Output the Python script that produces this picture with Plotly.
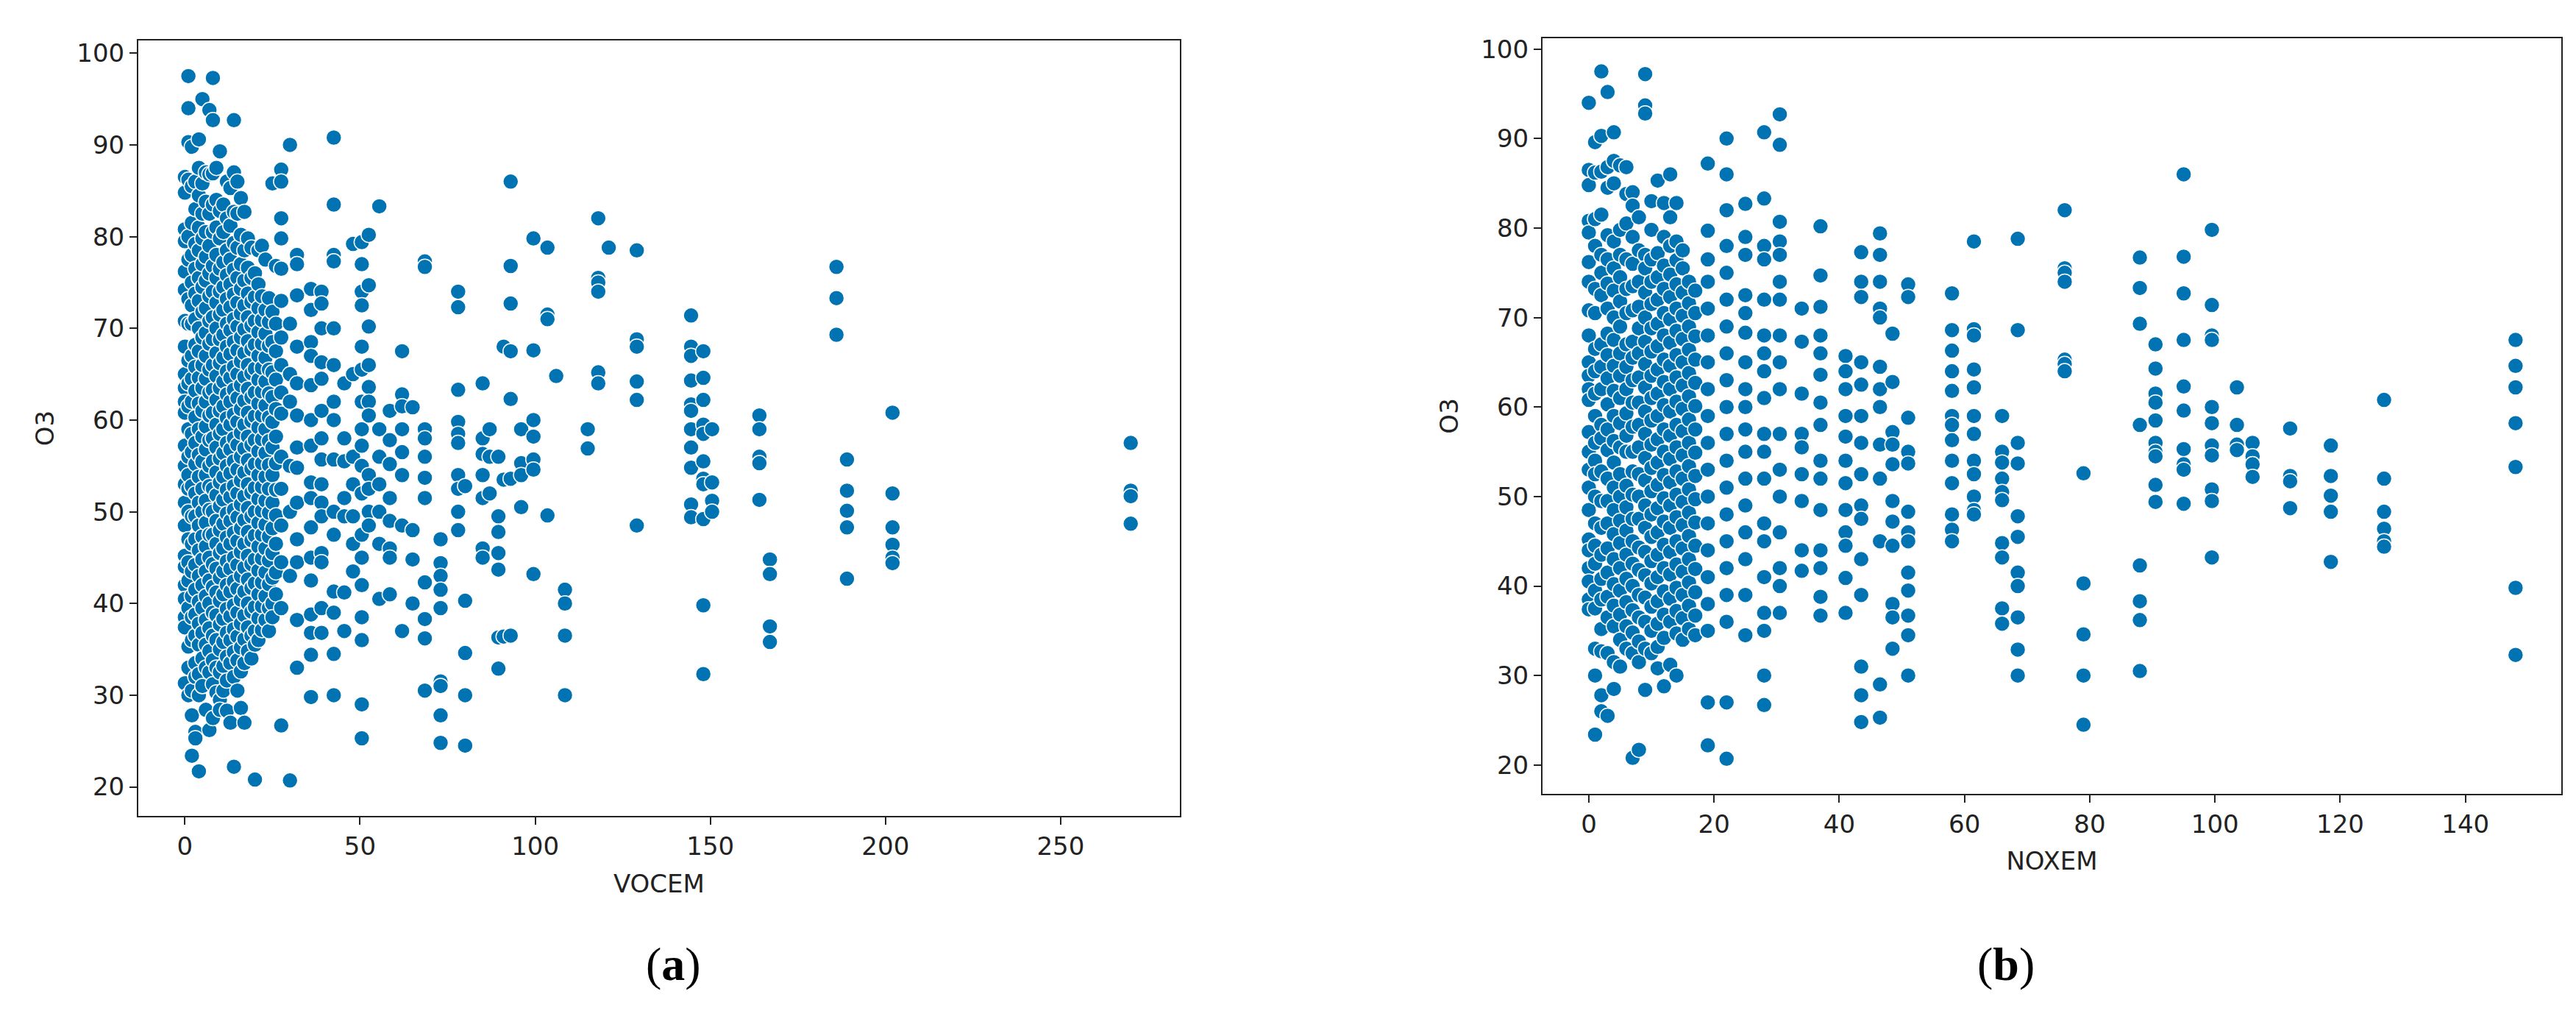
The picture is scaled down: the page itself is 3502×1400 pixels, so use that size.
import plotly.graph_objects as go

# Panel (a): VOCEM vs O3, values grouped by VOCEM column
vocem_cols = [0, 1, 2, 3, 4, 5, 6, 7, 8, 9, 10, 11, 12, 13, 14, 15, 16, 17, 18, 19, 20,
              21, 22, 23, 24, 25, 26, 27.5, 30, 32, 36, 39, 42.5, 45.5, 48, 50.5, 52.5,
              55.5, 58.5, 62, 65, 68.5, 73, 78, 80, 85, 87, 89.5, 91, 93, 96, 99.5, 103.5,
              106, 108.5, 115, 118, 121, 129, 144.5, 148, 150.5, 164, 167, 186, 189, 202, 270]
o3_a_cols = [
    [86.5, 84.8, 80.8, 79.5, 76.2, 74.2, 70.8, 68, 65, 63.5, 62, 60.8, 57.2, 55, 53, 51, 48.5, 45.2, 44, 42, 40.5, 38.5, 37.4, 31.3],
    [97.5, 94, 90.3, 86.2, 80, 77.5, 73.2, 70.5, 66.5, 64, 61.5, 59, 56, 54, 52.5, 50, 47, 44.5, 42.5, 39.5, 35.3, 33, 30],
    [89.8, 85.5, 81.5, 78, 75, 72.5, 70.5, 67, 64.5, 62, 58.5, 56.5, 52.8, 49.5, 46.5, 43.5, 40.8, 38.5, 36, 30.5, 27.8, 23.4],
    [86, 83, 79.2, 76.5, 73.8, 71, 68.2, 65.8, 63.2, 60.3, 57.5, 55.2, 52, 49.5, 47, 44.2, 41.5, 38.8, 36.5, 33.5, 32, 26, 25.3],
    [90.6, 87.5, 84.5, 81, 78.5, 75.5, 73, 70, 67.5, 64.6, 61.8, 59, 56.2, 53.8, 51, 48.5, 45.8, 43, 40.2, 37.8, 35.5, 32.3, 30, 21.7],
    [95, 85.8, 82.5, 79.8, 77, 74.5, 71.8, 69, 66, 63.5, 61, 58.2, 55.5, 52.5, 50, 47.3, 44.8, 42, 39.5, 36.8, 34, 31],
    [87, 83.8, 80.5, 77.8, 75.2, 72.2, 69.5, 67, 64.5, 62, 59.3, 56.8, 54, 51.2, 48.8, 46.2, 43.5, 40.8, 38.2, 35.5, 33, 28.4],
    [93.8, 86.8, 82.5, 79, 76, 73.5, 70.8, 68.3, 65.5, 63, 60.5, 57.8, 55, 52.8, 50.2, 47.5, 45, 42.5, 40, 37.3, 34.8, 32.5, 26.2],
    [97.3, 92.7, 86.9, 83.5, 80.5, 76.8, 74, 71.2, 68.8, 66, 63.3, 60.8, 58, 55.5, 52.5, 50, 47.5, 44.3, 41.8, 39, 36.5, 33.8, 31.2, 27.5],
    [87.5, 84, 81, 78, 75.5, 72.8, 70, 67.3, 64.8, 62.2, 59.5, 57, 54.3, 51.8, 49, 46.5, 43.8, 41.2, 38.7, 36, 33, 30.3],
    [89.3, 82.8, 79.8, 76.5, 74, 71.5, 68.8, 66.2, 63.5, 61, 58.5, 55.8, 53.2, 50.6, 48, 45.5, 42.8, 40.3, 37.7, 35, 32.5, 29.5, 28.4],
    [83.5, 80.5, 77.2, 74.5, 72, 69.3, 66.8, 64.2, 61.5, 59, 56.4, 53.8, 51.3, 48.7, 46, 43.5, 41, 38.3, 35.8, 33.2, 30.5],
    [86, 82, 78.5, 75.8, 73.2, 70.5, 68, 65.3, 62.8, 60.2, 57.5, 55, 52.4, 49.8, 47.2, 44.6, 42, 39.4, 36.8, 34.2, 31.6, 28.3],
    [85.3, 81.2, 77.5, 74.8, 72.3, 69.8, 67.2, 64.6, 62, 59.5, 56.8, 54.2, 51.6, 49, 46.5, 43.8, 41.3, 38.6, 36, 33.5, 27],
    [92.7, 87, 82.7, 79.3, 76.4, 73.7, 71, 68.5, 65.8, 63.3, 60.6, 58, 55.5, 52.8, 50.2, 47.7, 45, 42.4, 39.8, 37.2, 34.7, 32, 22.2],
    [86, 82.5, 78.8, 75.5, 72.8, 70.2, 67.6, 65, 62.4, 59.8, 57.3, 54.6, 52, 49.4, 46.8, 44.2, 41.6, 39, 36.4, 33.8, 30.5],
    [84.2, 80.2, 77, 74.3, 71.6, 69, 66.4, 63.8, 61.2, 58.6, 56, 53.4, 50.8, 48.2, 45.6, 43, 40.4, 37.8, 35.2, 32.6, 28.6],
    [82.7, 78.5, 75.2, 72.5, 69.9, 67.3, 64.7, 62.1, 59.5, 56.9, 54.3, 51.7, 49.1, 46.5, 43.9, 41.3, 38.7, 36.1, 33.5, 27],
    [79.8, 76.6, 73.8, 71.2, 68.6, 66, 63.4, 60.8, 58.2, 55.6, 53, 50.4, 47.8, 45.2, 42.6, 40, 37.4, 34.8],
    [78.8, 75.5, 72.9, 70.3, 67.7, 65.1, 62.5, 59.9, 57.3, 54.7, 52.1, 49.5, 46.9, 44.3, 41.7, 39.1, 36.5, 34],
    [76, 73.4, 70.8, 68.2, 65.6, 63, 60.4, 57.8, 55.2, 52.6, 50, 47.4, 44.8, 42.2, 39.6, 37, 35.5, 20.8],
    [78.5, 74.8, 72.2, 69.6, 67, 64.4, 61.8, 59.2, 56.6, 54, 51.4, 48.8, 46.2, 43.6, 41, 38.4, 36],
    [79, 73.5, 70.9, 68.3, 65.7, 63.1, 60.5, 57.9, 55.3, 52.7, 50.1, 47.5, 44.9, 42.3, 39.7, 37.1],
    [77.5, 72, 69.4, 66.8, 64.2, 61.6, 59, 56.4, 53.8, 51.2, 48.6, 46, 43.4, 40.8, 38.2],
    [73.3, 70.7, 68.1, 65.5, 62.9, 60.3, 57.7, 55.1, 52.5, 49.9, 47.3, 44.7, 42.1, 39.5, 37],
    [85.8, 71.8, 68.5, 65.2, 62.5, 59.8, 57, 54, 51, 48.2, 45.5, 42.8, 40, 38.5],
    [76.8, 70.5, 67.5, 64.4, 61.2, 58.2, 55.3, 52.4, 49.6, 46.5, 43.4, 41],
    [87.3, 86, 82, 79.8, 76.5, 73, 69, 66, 63, 60.7, 56, 52.5, 48.5, 44.5, 39.5, 26.7],
    [90, 70.5, 65, 62, 55, 50, 43, 20.7],
    [78, 77, 73.6, 68, 64, 60.5, 57, 54.8, 51, 47, 44.5, 38.2, 33],
    [74.3, 72, 68.5, 67, 63.8, 60, 57.2, 53.2, 51.5, 48.3, 45, 42.5, 38.8, 36.8, 34.4, 29.8],
    [74, 72.7, 70, 66.3, 64.5, 61, 58, 55.7, 53, 51, 49.5, 45.5, 44.5, 39.5, 36.8],
    [90.8, 83.5, 78, 77.3, 70, 66, 62, 60, 55.7, 50, 47.5, 41.3, 39, 34.5, 30],
    [64, 58, 55.5, 51.5, 49.5, 41.2, 37],
    [79.2, 65, 56, 53, 49.5, 46.5, 43.5],
    [79.4, 77, 74, 72.5, 68, 65.5, 62, 59, 57.2, 55, 52, 47.5, 45, 42, 38.5, 36, 29, 25.3],
    [80.2, 74.7, 70.2, 66, 63.6, 62, 60.5, 54, 52.5, 50, 48.5],
    [83.3, 59, 56, 53, 50, 46.5, 40.5],
    [61, 57.8, 55.2, 51.5, 49, 46, 45, 41],
    [67.5, 62.8, 61.5, 59, 56.5, 54, 48.5, 37],
    [61.4, 48, 44.8, 40],
    [77.3, 76.7, 59, 58, 56, 53.7, 51.5, 42.3, 38.3, 36.2, 30.5],
    [47, 44.4, 43, 41.5, 39.5, 31.5, 31, 27.8, 24.8],
    [74, 72.3, 63.3, 59.8, 58.5, 57.5, 54, 52.5, 50, 48],
    [52.8, 40.3, 34.6, 30, 24.5],
    [64, 58, 56.3, 54, 51.5, 46, 45],
    [59, 56, 52],
    [56, 49.5, 47.8, 45.5, 43.7, 36.3, 32.9],
    [68, 53.5, 36.4],
    [86, 76.8, 72.7, 67.5, 62.3, 53.6, 36.5],
    [59, 55.3, 54, 50.5],
    [79.8, 67.6, 60, 58.2, 55.7, 54.6, 43.2],
    [78.8, 71.5, 71, 49.6],
    [64.8],
    [41.5, 40, 36.5, 30],
    [59, 56.9],
    [82, 75.5, 75, 74, 65.2, 64],
    [78.8],
    [78.5, 68.8, 68, 64.2, 62.2, 48.5],
    [71.4, 68, 67, 64.3, 61.7, 61, 59, 57, 54.8, 50.8, 49.4],
    [67.5, 64.6, 62.2, 59.5, 58.5, 55.5, 53.6, 53, 49.2, 39.8, 32.3],
    [59, 53.2, 51.2, 50],
    [60.5, 59, 56, 55.3, 51.3],
    [44.8, 43.2, 37.5, 35.8],
    [76.7, 73.3, 69.3],
    [55.7, 52.3, 50.1, 48.3, 42.7],
    [60.8, 52, 48.3, 46.4, 45, 44.4],
    [57.5, 52.3, 51.7, 48.7],
]

# Panel (b): NOXEM vs O3
noxem_cols = [0, 1, 2, 3, 4, 5, 6, 7, 8, 9, 10, 11, 12, 13, 14, 15, 16, 17, 19, 22, 25,
              28, 30.5, 34, 37, 41, 43.5, 46.5, 48.5, 51, 58, 61.5, 66, 68.5, 76, 79, 88,
              90.5, 95, 99.5, 103.5, 106, 112, 118.5, 127, 148]
o3_b_cols = [
    [94, 86.5, 84.8, 80.8, 79.5, 76.2, 74, 70.8, 68, 65, 63.5, 62, 60.8, 57.2, 55, 53, 51, 48.5, 45.2, 44, 42, 40.5, 38.5, 37.4],
    [89.6, 86.2, 81, 78, 73.2, 70.5, 66.5, 64, 61.5, 59, 56, 54, 52.5, 50, 47, 44.5, 42.5, 39.5, 37.5, 33, 30, 23.4],
    [97.5, 90.3, 86.3, 81.5, 77, 75, 72.5, 67, 64.5, 62, 58, 56.5, 52.8, 49.5, 46.5, 43.5, 40.8, 38.5, 35.2, 32.7, 27.8, 26],
    [95.2, 86.8, 84.5, 79.2, 76.5, 73.8, 71, 68.2, 65.8, 63.2, 60.3, 57.5, 55.2, 52, 49.5, 47, 44.2, 41.5, 38.8, 36.5, 32.5, 25.5],
    [90.7, 87.5, 85, 78.5, 75.5, 73, 70, 67.5, 64.6, 61.8, 59, 56.2, 53.8, 51, 48.5, 45.8, 43, 40.2, 37.8, 35.5, 31.5, 28.5],
    [87, 79.8, 77, 74.5, 71.8, 69, 66, 63.5, 61, 58.2, 55.5, 52.5, 50, 47.3, 44.8, 42, 39.5, 36.8, 34, 31],
    [86.8, 83.8, 80.5, 76.5, 73.2, 70.5, 67, 64.5, 62, 59.3, 56.8, 55, 51.2, 48.8, 46.2, 43.5, 40.8, 38.2, 35.5, 33],
    [84, 82.5, 79, 76, 73.5, 70.8, 67.3, 65.5, 63, 60.5, 57.8, 55, 52.8, 50.2, 47.5, 45, 42.5, 40, 37.3, 34.8, 32.5, 20.8],
    [81.2, 77.5, 74, 71.2, 68.8, 66, 63.3, 60.5, 58, 55.5, 52.5, 50, 47.5, 44.3, 41.8, 39, 36.5, 33.8, 31.5, 21.7],
    [97.2, 93.7, 92.8, 77, 75.5, 72.8, 70, 67.3, 64.8, 62.2, 59.5, 57, 54.3, 51.8, 49, 46.5, 43.8, 41.2, 38.7, 36, 33, 28.4],
    [83, 79.8, 76.5, 74, 71.5, 68.8, 66.2, 63.5, 61, 58.5, 55.8, 53.2, 50.6, 48, 45.5, 42.8, 40.3, 37.7, 35, 32.5],
    [85.3, 77.2, 74.5, 72, 69.3, 66.8, 64.2, 61.5, 59, 56.4, 53.8, 51.3, 48.7, 46, 43.5, 41, 38.3, 35.8, 33.2, 30.8],
    [82.8, 79, 75.8, 73.2, 70.5, 68, 65.3, 62.8, 60.2, 57.5, 55, 52.4, 49.8, 47.2, 44.6, 42, 39.4, 36.8, 34.2, 28.8],
    [86, 81.2, 78, 74.8, 72.3, 69.8, 67.2, 64.6, 62, 59.5, 56.8, 54.2, 51.6, 49, 46.5, 43.8, 41.3, 38.6, 36, 31.2],
    [82.8, 78.5, 76.4, 73.7, 71, 68.5, 65.8, 63.3, 60.6, 58, 55.5, 52.8, 50.2, 47.7, 45, 42.4, 39.8, 37.2, 34.7, 30],
    [77.5, 75.5, 72.8, 70.2, 67.6, 65, 62.4, 59.8, 57.3, 54.6, 52, 49.4, 46.8, 44.2, 41.6, 39, 36.4, 34],
    [74, 71.6, 69, 66.4, 63.8, 61.2, 58.6, 56, 53.4, 50.8, 48.2, 45.6, 43, 40.4, 37.8, 35.2],
    [73, 70.5, 67.9, 65.3, 62.7, 60.1, 57.5, 54.9, 52.3, 49.7, 47.1, 44.5, 41.9, 39.3, 36.7, 34.5],
    [87.2, 79.7, 76.5, 74, 71, 68, 65, 62, 59, 56, 53, 50, 47, 44, 41, 38, 35, 27, 22.2],
    [90, 86, 82, 78, 75, 72, 69, 66, 63, 60, 57, 54, 51, 48, 45, 42, 39, 36, 27, 20.7],
    [82.7, 79, 77, 72.5, 70.5, 68.3, 65, 62, 60, 57.5, 55, 52, 49, 46, 43, 39, 34.5],
    [90.7, 83.3, 78, 76.5, 72, 68, 66, 64, 61, 57, 55, 52, 47, 45, 41, 37, 35, 30, 26.7],
    [92.7, 89.3, 80.7, 78.5, 77, 74, 72, 68, 65, 62, 57, 53, 50, 46, 42, 40, 37],
    [71, 67.3, 61.5, 57, 55.5, 52.5, 49.5, 44, 41.7],
    [80.2, 74.7, 71.2, 68, 66, 63.6, 60.5, 58, 54, 52, 48.5, 44, 42, 38.8, 36.7],
    [65.7, 64, 62, 59, 56.7, 54, 51.5, 48.5, 46, 44.5, 40.9, 37],
    [77.3, 74, 72.3, 65, 62.5, 59, 56, 52.5, 49, 47.5, 43, 39, 31, 27.8, 24.8],
    [79.4, 77, 74, 71, 70, 64.5, 62, 60, 55.8, 52, 45, 29, 25.3],
    [68.2, 62.8, 57.2, 55.8, 53.6, 49.5, 47.2, 44.5, 38, 36.5, 33],
    [73.7, 72.3, 58.8, 55, 53.7, 48.3, 46, 45, 41.5, 39.5, 36.7, 34.5, 30],
    [72.7, 68.6, 66.3, 64, 61.8, 59, 58, 56.3, 54, 51.5, 48, 46.3, 45],
    [78.5, 68.7, 68, 64.2, 62.2, 59, 57, 54, 52.5, 50, 48.5, 48],
    [59, 55, 53.8, 52, 50.5, 49.6, 44.8, 43.2, 37.5, 35.8],
    [78.8, 68.6, 56, 53.7, 47.8, 45.5, 41.5, 40, 36.5, 32.9, 30],
    [82, 75.5, 75, 74, 65.3, 64.8, 64],
    [52.6, 40.3, 34.6, 30, 24.5],
    [76.7, 73.3, 69.3, 58, 42.3, 38.3, 36.2, 30.5],
    [67, 64.3, 61.5, 60.5, 58.5, 56, 55, 54.5, 51.3, 49.4],
    [86, 76.8, 72.7, 67.5, 62.3, 59.6, 55.3, 53.6, 53, 49.2],
    [79.8, 71.4, 68, 67.5, 60, 58.2, 55.7, 54.6, 50.8, 49.5, 43.2],
    [62.2, 58, 55.8, 55.2],
    [56, 54.5, 53.6, 52.2],
    [57.6, 52.3, 51.7, 48.7],
    [55.7, 52.3, 50.1, 48.3, 42.7],
    [60.8, 52, 48.3, 46.4, 45, 44.4],
    [67.5, 64.6, 62.2, 58.2, 53.3, 39.8, 32.3],
]

vocem, o3_a = [], []
for xv, ys in zip(vocem_cols, o3_a_cols):
    vocem += [xv] * len(ys)
    o3_a += ys
noxem, o3_b = [], []
for xv, ys in zip(noxem_cols, o3_b_cols):
    noxem += [xv] * len(ys)
    o3_b += ys

marker = dict(color="#0173b2", size=21, line=dict(color="white", width=1.5))
fig = go.Figure()
fig.add_trace(go.Scatter(x=vocem, y=o3_a, mode="markers", marker=marker, xaxis="x", yaxis="y"))
fig.add_trace(go.Scatter(x=noxem, y=o3_b, mode="markers", marker=marker, xaxis="x2", yaxis="y2"))

ax = dict(showline=True, linecolor="#222", linewidth=2, mirror=True, ticks="outside",
          ticklen=10, tickwidth=2, tickcolor="#222", showgrid=False, zeroline=False,
          tickfont=dict(size=34, color="#222"))
fig.update_layout(
    width=3502, height=1400, showlegend=False, plot_bgcolor="white", paper_bgcolor="white",
    margin=dict(l=0, r=0, t=0, b=0),
    font=dict(family="DejaVu Sans", color="#222"),
    xaxis=dict(ax, domain=[0.0514, 0.4557], range=[-13.3, 284], tickvals=[0, 50, 100, 150, 200, 250],
               title=dict(text="VOCEM", font=dict(size=34), standoff=20), anchor="y"),
    yaxis=dict(ax, domain=[0.214, 0.970], range=[16.8, 101.4], tickvals=list(range(20, 101, 10)),
               title=dict(text="O3", font=dict(size=34), standoff=20), anchor="x"),
    xaxis2=dict(ax, domain=[0.5965, 0.992], range=[-7.4, 155.3], tickvals=list(range(0, 141, 20)),
                title=dict(text="NOXEM", font=dict(size=34), standoff=20), anchor="y2"),
    yaxis2=dict(ax, domain=[0.236, 0.972], range=[16.8, 101.2], tickvals=list(range(20, 101, 10)),
                title=dict(text="O3", font=dict(size=34), standoff=20), anchor="x2"),
)
fig.add_annotation(text="(<b>a</b>)", x=0.248, y=1400 - 1340, xref="paper", yref="paper",
                   showarrow=False, font=dict(family="Liberation Serif", size=64, color="black"))
fig.add_annotation(text="(<b>b</b>)", x=0.788, y=1400 - 1340, xref="paper", yref="paper",
                   showarrow=False, font=dict(family="Liberation Serif", size=64, color="black"))
fig.layout.annotations[0].y = 60 / 1400
fig.layout.annotations[1].y = 60 / 1400
fig.write_html("out.html")
